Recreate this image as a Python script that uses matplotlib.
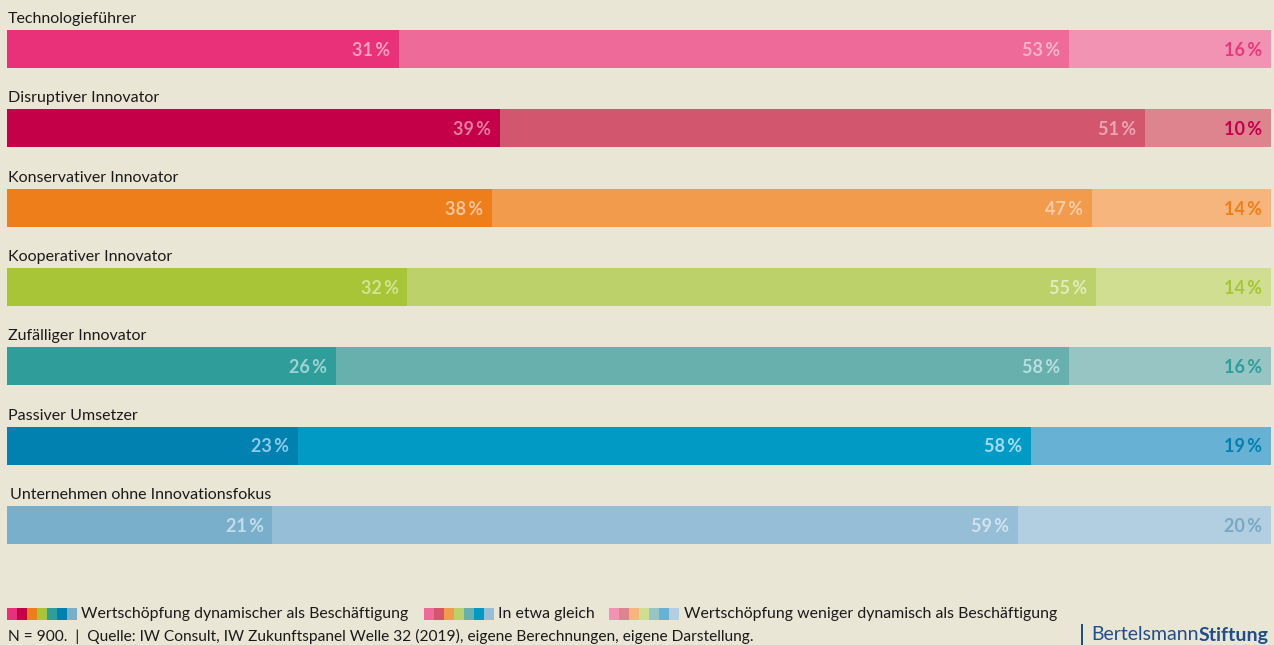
import matplotlib.pyplot as plt
from matplotlib.patches import Rectangle

plt.rcParams['font.family'] = ['Lato', 'DejaVu Sans']

categories = [
    "Technologieführer",
    "Disruptiver Innovator",
    "Konservativer Innovator",
    "Kooperativer Innovator",
    "Zufälliger Innovator",
    "Passiver Umsetzer",
    "Unternehmen ohne Innovationsfokus",
]
dynamischer = [31, 39, 38, 32, 26, 23, 21]
gleich = [53, 51, 47, 55, 58, 58, 59]
weniger = [16, 10, 14, 14, 16, 19, 20]

legend_labels = [
    "Wertschöpfung dynamischer als Beschäftigung",
    "In etwa gleich",
    "Wertschöpfung weniger dynamisch als Beschäftigung",
]

# one palette per row: dark / mid / light segment
palettes = [
    ("#E9317A", "#EE6A98", "#F293B3"),
    ("#C30048", "#D1566E", "#DE848F"),
    ("#EE7E1A", "#F39B4C", "#F6B57C"),
    ("#A8C437", "#BCD169", "#CFDE91"),
    ("#2F9E9A", "#68B0AE", "#96C5C4"),
    ("#0081B0", "#009AC4", "#67B2D4"),
    ("#79AFCB", "#96BED6", "#B1CFE1"),
]
# colours of the value labels inside each segment
label_cols = [
    ("#F4A0BF", "#F6B3CB", "#E8397B"),
    ("#E47C9C", "#EAA5B3", "#C4004A"),
    ("#F8C59A", "#F9CCA6", "#EE7F1B"),
    ("#D3E38E", "#E2ECBA", "#A8C437"),
    ("#9ED3D1", "#B9DEDD", "#2E9E9A"),
    ("#8CCBE6", "#A6DBEE", "#0081B0"),
    ("#C2DCEA", "#D0E3EE", "#79A8C4"),
]

BG = "#EAE6D6"
W, H = 1274, 645
fig = plt.figure(figsize=(W / 100, H / 100), dpi=100, facecolor=BG)

x0, x1 = 7, 1271
ax = fig.add_axes([x0 / W, 0, (x1 - x0) / W, 1])
ax.set_facecolor(BG)
ax.set_xlim(0, 100)
ax.set_ylim(H, 0)
ax.axis("off")

pitch = 79.3
for i, cat in enumerate(categories):
    yc = 49 + i * pitch
    vals = [dynamischer[i], gleich[i], weniger[i]]
    total = sum(vals)  # rounded shares, each row stretched to full width
    left = 0
    for j, v in enumerate(vals):
        w = v / total * 100
        ax.barh(yc, w, left=left, height=38, color=palettes[i][j], linewidth=0)
        ax.text(left + w - 0.7, yc + 1.5, f"{v}\u2009%", ha="right", va="center",
                fontsize=13, fontweight="bold", color=label_cols[i][j])
        left += w
    lx = 0.05 if i < 6 else 0.25
    ax.text(lx, yc - 30, cat, ha="left", va="center", fontsize=11.5, color="#1a1a1a")

# legend strips
def px(x, y):
    return x / W, 1 - y / H

strip_x = [7, 424, 609]
text_x = [81, 498, 684]
for k, lab in enumerate(legend_labels):
    for i in range(7):
        fx, fy = px(strip_x[k] + i * 10, 620)
        fig.patches.append(Rectangle((fx, fy), 10 / W, 12 / H, transform=fig.transFigure,
                                     color=palettes[i][k], linewidth=0))
    fig.text(*px(text_x[k], 614), lab, ha="left", va="center", fontsize=11.4, color="#1a1a1a")

fig.text(*px(8, 636), "N = 900.  |  Quelle: IW Consult, IW Zukunftspanel Welle 32 (2019), eigene Berechnungen, eigene Darstellung.",
         ha="left", va="center", fontsize=11.2, color="#1a1a1a")

# logo
fig.patches.append(Rectangle(px(1081, 645), 2 / W, 21 / H, transform=fig.transFigure,
                             color="#1F4E8C", linewidth=0))
t = fig.text(*px(1091, 635), "Bertelsmann", ha="left", va="center", fontsize=14, color="#1F4E8C")
fig.canvas.draw()
bb = t.get_window_extent()
fig.text(bb.x1 / W, 1 - 635 / H, "Stiftung", ha="left", va="center",
         fontsize=14, fontweight="bold", color="#1F4E8C")

fig.savefig("out.png", dpi=100, facecolor=BG)
